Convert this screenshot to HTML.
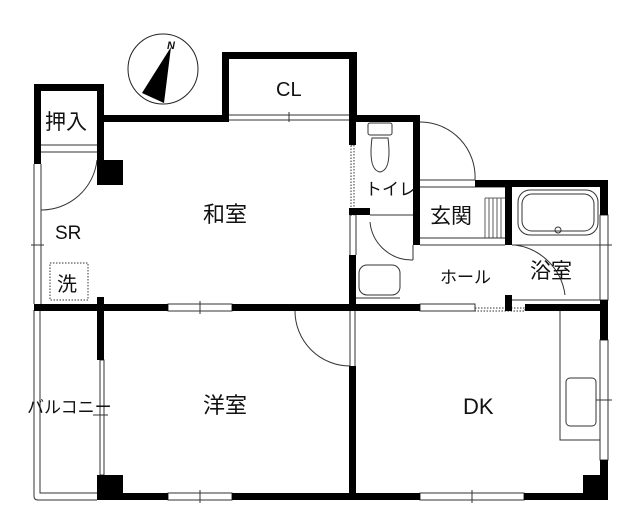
<!DOCTYPE html>
<html><head><meta charset="utf-8"><style>
html,body{margin:0;padding:0;background:#fff;}
svg{display:block;}
text{font-family:"Liberation Sans","Noto Sans CJK JP",sans-serif;fill:#111;}
</style></head><body>
<svg width="640" height="528" viewBox="0 0 640 528" xmlns="http://www.w3.org/2000/svg">
<!-- compass -->
<circle cx="163" cy="69" r="35" fill="none" stroke="#222" stroke-width="1"/>
<polygon points="171,47 142,93 164,103" fill="#000"/>
<text x="167" y="49" font-size="11" font-style="italic" font-weight="bold">N</text>
<!-- thin lines -->
<g stroke="#333" stroke-width="1" fill="none">
<line x1="34" y1="164" x2="34" y2="304"/><line x1="41" y1="164" x2="41" y2="304"/>
<line x1="31" y1="245" x2="44" y2="245"/>
<line x1="41" y1="145" x2="97" y2="145"/><line x1="41" y1="152" x2="97" y2="152"/>
<path d="M97 160 A56 56 0 0 1 41 210"/>
<rect x="50" y="263" width="38" height="37" stroke-dasharray="1.5,1.5"/>
<path d="M34 310 V496 Q34 500 38 500 H97"/><path d="M40 310 V493 H97"/>
<line x1="229" y1="115" x2="349" y2="115"/><line x1="229" y1="120" x2="349" y2="120"/>
<line x1="289" y1="112" x2="289" y2="122"/>
<rect x="168" y="304" width="64" height="7"/><line x1="200" y1="301" x2="200" y2="314"/>
<rect x="168" y="493" width="64" height="7"/><line x1="200" y1="490" x2="200" y2="503"/>
<rect x="420" y="493" width="104" height="7"/><line x1="472" y1="490" x2="472" y2="503"/>
<rect x="100" y="360" width="4" height="115"/>
<line x1="93" y1="415" x2="108" y2="415"/>
<path d="M295 311 A55 55 0 0 0 350 366"/>
<line x1="350" y1="311" x2="350" y2="366"/><line x1="355" y1="311" x2="355" y2="366"/>
<line x1="350" y1="215" x2="350" y2="255"/><line x1="356" y1="215" x2="356" y2="255"/>
<rect x="351" y="145" width="3" height="70" stroke-dasharray="1.5,1.5"/>
<path d="M420 122 A55 55 0 0 1 475 180"/><line x1="420" y1="180" x2="475" y2="180"/>
<line x1="420" y1="187" x2="505" y2="187"/>
<line x1="420" y1="245" x2="505" y2="245"/><line x1="420" y1="238" x2="505" y2="238"/>
<g stroke-width="0.8"><line x1="485" y1="198" x2="505" y2="198"/>
<line x1="485" y1="198" x2="485" y2="238"/><line x1="489" y1="198" x2="489" y2="238"/><line x1="493" y1="198" x2="493" y2="238"/><line x1="497" y1="198" x2="497" y2="238"/><line x1="501" y1="198" x2="501" y2="238"/></g>
<line x1="370" y1="215" x2="413" y2="215"/>
<path d="M370 222 A42 42 0 0 0 413 260"/><line x1="413" y1="245" x2="413" y2="260"/>
<rect x="359" y="265" width="41" height="30" rx="8"/>
<line x1="356" y1="298" x2="400" y2="298"/>
<rect x="368" y="123" width="24" height="12" rx="2"/>
<path d="M372 138 Q368 170 380 172 Q392 170 388 138 Z"/>
<rect x="518" y="190" width="80" height="45" rx="12"/>
<rect x="522" y="194" width="72" height="37" rx="10"/>
<circle cx="558" cy="230" r="3"/>
<path d="M515 245 A58 58 0 0 1 565 295"/>
<line x1="512" y1="245" x2="600" y2="245"/><line x1="512" y1="300" x2="600" y2="300"/>
<rect x="600" y="215" width="8" height="85"/><line x1="596" y1="245" x2="612" y2="245"/>
<rect x="420" y="304" width="55" height="7"/><rect x="475" y="308" width="50" height="3" stroke-dasharray="1.5,1.5"/>
<path d="M560 311 V440 H600"/><rect x="566" y="378" width="30" height="48" rx="4"/>
<rect x="600" y="340" width="8" height="120"/><line x1="596" y1="400" x2="612" y2="400"/>
</g>
<!-- thick walls -->
<g fill="#000">
<rect x="34" y="84" width="70" height="7"/>
<rect x="34" y="84" width="7" height="80"/>
<rect x="97" y="84" width="7" height="76"/>
<rect x="97" y="160" width="26" height="25"/>
<rect x="104" y="115" width="125" height="7"/>
<rect x="222" y="52" width="135" height="7"/>
<rect x="222" y="52" width="7" height="70"/>
<rect x="349" y="52" width="8" height="70"/>
<rect x="349" y="115" width="71" height="7"/>
<rect x="349" y="115" width="7" height="30"/>
<rect x="349" y="208" width="21" height="7"/>
<rect x="349" y="255" width="7" height="56"/>
<rect x="413" y="115" width="7" height="130"/>
<rect x="475" y="180" width="133" height="7"/>
<rect x="505" y="180" width="7" height="65"/>
<rect x="505" y="295" width="7" height="16"/>
<rect x="600" y="180" width="8" height="35"/>
<rect x="600" y="300" width="8" height="40"/>
<rect x="600" y="460" width="8" height="40"/>
<rect x="34" y="304" width="134" height="7"/>
<rect x="97" y="297" width="7" height="63"/>
<rect x="232" y="304" width="188" height="7"/>
<rect x="525" y="304" width="83" height="7"/>
<rect x="349" y="366" width="7" height="134"/>
<rect x="97" y="475" width="26" height="25"/>
<rect x="583" y="475" width="25" height="25"/>
<rect x="104" y="493" width="64" height="7"/>
<rect x="232" y="493" width="188" height="7"/>
<rect x="524" y="493" width="84" height="7"/>
</g>
<!-- labels -->
<text x="45" y="129" font-size="21">押入</text>
<text x="276" y="96" font-size="20">CL</text>
<text x="203" y="222" font-size="22">和室</text>
<text x="55" y="239" font-size="19">SR</text>
<text x="57" y="291" font-size="20">洗</text>
<text x="365" y="195" font-size="17">トイレ</text>
<text x="430" y="223" font-size="21">玄関</text>
<text x="440" y="283" font-size="17">ホール</text>
<text x="530" y="278" font-size="21">浴室</text>
<text x="27" y="413" font-size="17">バルコニー</text>
<text x="203" y="413" font-size="22">洋室</text>
<text x="463" y="414" font-size="22">DK</text>
</svg>
</body></html>
